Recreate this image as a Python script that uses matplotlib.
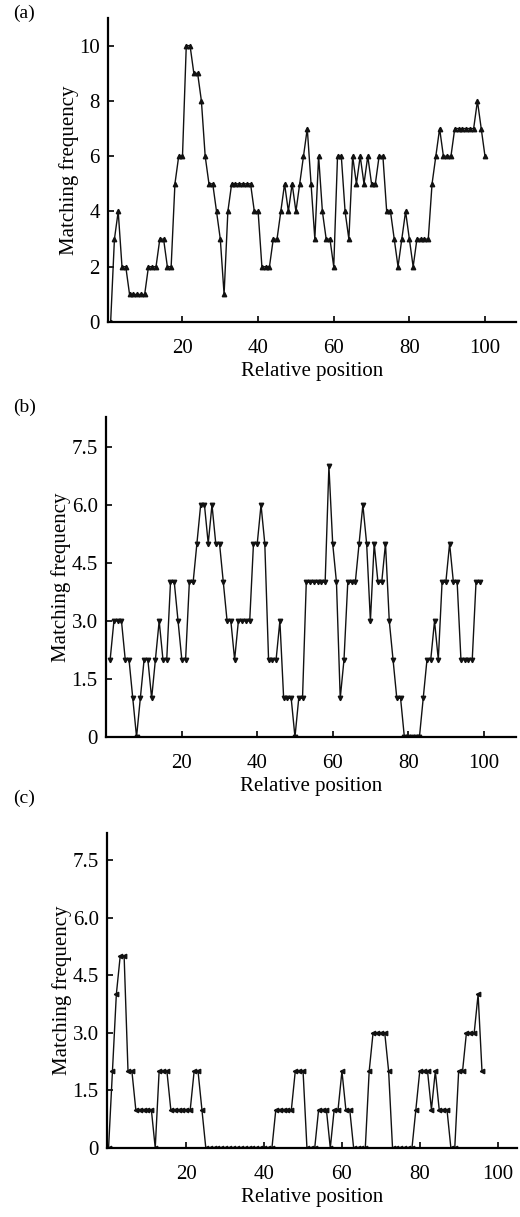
import matplotlib
matplotlib.use("Agg")
import matplotlib.pyplot as plt
import numpy as np

plt.rcParams['font.family'] = ['Liberation Serif', 'DejaVu Serif']

# ---- data ----
pos_a = list(range(1, 101))
val_a = [0, 3, 4, 2, 2, 1, 1, 1, 1, 1,
         2, 2, 2, 3, 3, 2, 2, 5, 6, 6,
         10, 10, 9, 9, 8, 6, 5, 5, 4, 3,
         1, 4, 5, 5, 5, 5, 5, 5, 4, 4,
         2, 2, 2, 3, 3, 4, 5, 4, 5, 4,
         5, 6, 7, 5, 3, 6, 4, 3, 3, 2,
         6, 6, 4, 3, 6, 5, 6, 5, 6, 5,
         5, 6, 6, 4, 4, 3, 2, 3, 4, 3,
         2, 3, 3, 3, 3, 5, 6, 7, 6, 6,
         6, 7, 7, 7, 7, 7, 7, 8, 7, 6]

pos_b = list(range(1, 100))
val_b = [2, 3, 3, 3, 2, 2, 1, 0, 1, 2,
         2, 1, 2, 3, 2, 2, 4, 4, 3, 2,
         2, 4, 4, 5, 6, 6, 5, 6, 5, 5,
         4, 3, 3, 2, 3, 3, 3, 3, 5, 5,
         6, 5, 2, 2, 2, 3, 1, 1, 1, 0,
         1, 1, 4, 4, 4, 4, 4, 4, 7, 5,
         4, 1, 2, 4, 4, 4, 5, 6, 5, 3,
         5, 4, 4, 5, 3, 2, 1, 1, 0, 0,
         0, 0, 0, 1, 2, 2, 3, 2, 4, 4,
         5, 4, 4, 2, 2, 2, 2, 4, 4]

pos_c = list(range(0, 97))
val_c = [0, 2, 4, 5, 5, 2, 2, 1, 1, 1,
         1, 1, 0, 2, 2, 2, 1, 1, 1, 1,
         1, 1, 2, 2, 1, 0, 0, 0, 0, 0,
         0, 0, 0, 0, 0, 0, 0, 0, 0, 0,
         0, 0, 0, 1, 1, 1, 1, 1, 2, 2,
         2, 0, 0, 0, 1, 1, 1, 0, 1, 1,
         2, 1, 1, 0, 0, 0, 0, 2, 3, 3,
         3, 3, 2, 0, 0, 0, 0, 0, 0, 1,
         2, 2, 2, 1, 2, 1, 1, 1, 0, 0,
         2, 2, 3, 3, 3, 4, 2]

xticks = [20, 40, 60, 80, 100]
yticks_a = [0, 2, 4, 6, 8, 10]
yticks_bc = [0, 1.5, 3.0, 4.5, 6.0, 7.5]
yticklabels_bc = ["0", "1.5", "3.0", "4.5", "6.0", "7.5"]

W, H = 520, 1217
fig = plt.figure(figsize=(W / 100, H / 100), dpi=100)

def box(l, r, t, b):
    return [l / W, 1 - b / H, (r - l) / W, (b - t) / H]

FS = 15

def style(ax, xlim, ylim, yticks, ylabels):
    for s in ['top', 'right']:
        ax.spines[s].set_visible(False)
    for s in ['left', 'bottom']:
        ax.spines[s].set_linewidth(1.6)
        ax.spines[s].set_color('black')
    ax.set_xlim(*xlim)
    ax.set_ylim(*ylim)
    ax.set_xticks(xticks)
    ax.set_yticks(yticks)
    ax.set_yticklabels(ylabels)
    ax.tick_params(direction='in', length=4, width=1.2, labelsize=FS, colors='black')
    ax.tick_params(axis='x', pad=12)
    ax.tick_params(axis='y', pad=6)
    ax.set_xlabel("Relative position", fontsize=FS, labelpad=3)
    ax.set_ylabel("Matching frequency", fontsize=FS, labelpad=0)

ax1 = fig.add_axes(box(108, 516, 18, 322))
ax1.plot(pos_a, val_a, color='#111111', lw=1.0, marker='^', ms=3.2)
style(ax1, (0.3, 108.2), (0, 11), yticks_a, [str(v) for v in yticks_a])

ax2 = fig.add_axes(box(106, 516, 417, 737))
ax2.plot(pos_b, val_b, color='#111111', lw=1.0, marker='v', ms=3.2)
style(ax2, (-0.1, 108.6), (0, 8.27), yticks_bc, yticklabels_bc)

ax3 = fig.add_axes(box(107, 517, 833, 1148))
ax3.plot(pos_c, val_c, color='#111111', lw=1.0, marker='<', ms=3.2)
style(ax3, (-0.4, 105), (0, 8.2), yticks_bc, yticklabels_bc)

fig.text(13 / W, 1 - 13 / H, "(a)", fontsize=FS - 1, va='center', ha='left')
fig.text(13 / W, 1 - 407 / H, "(b)", fontsize=FS - 1, va='center', ha='left')
fig.text(13 / W, 1 - 798 / H, "(c)", fontsize=FS - 1, va='center', ha='left')

fig.savefig("out.png", dpi=100)
